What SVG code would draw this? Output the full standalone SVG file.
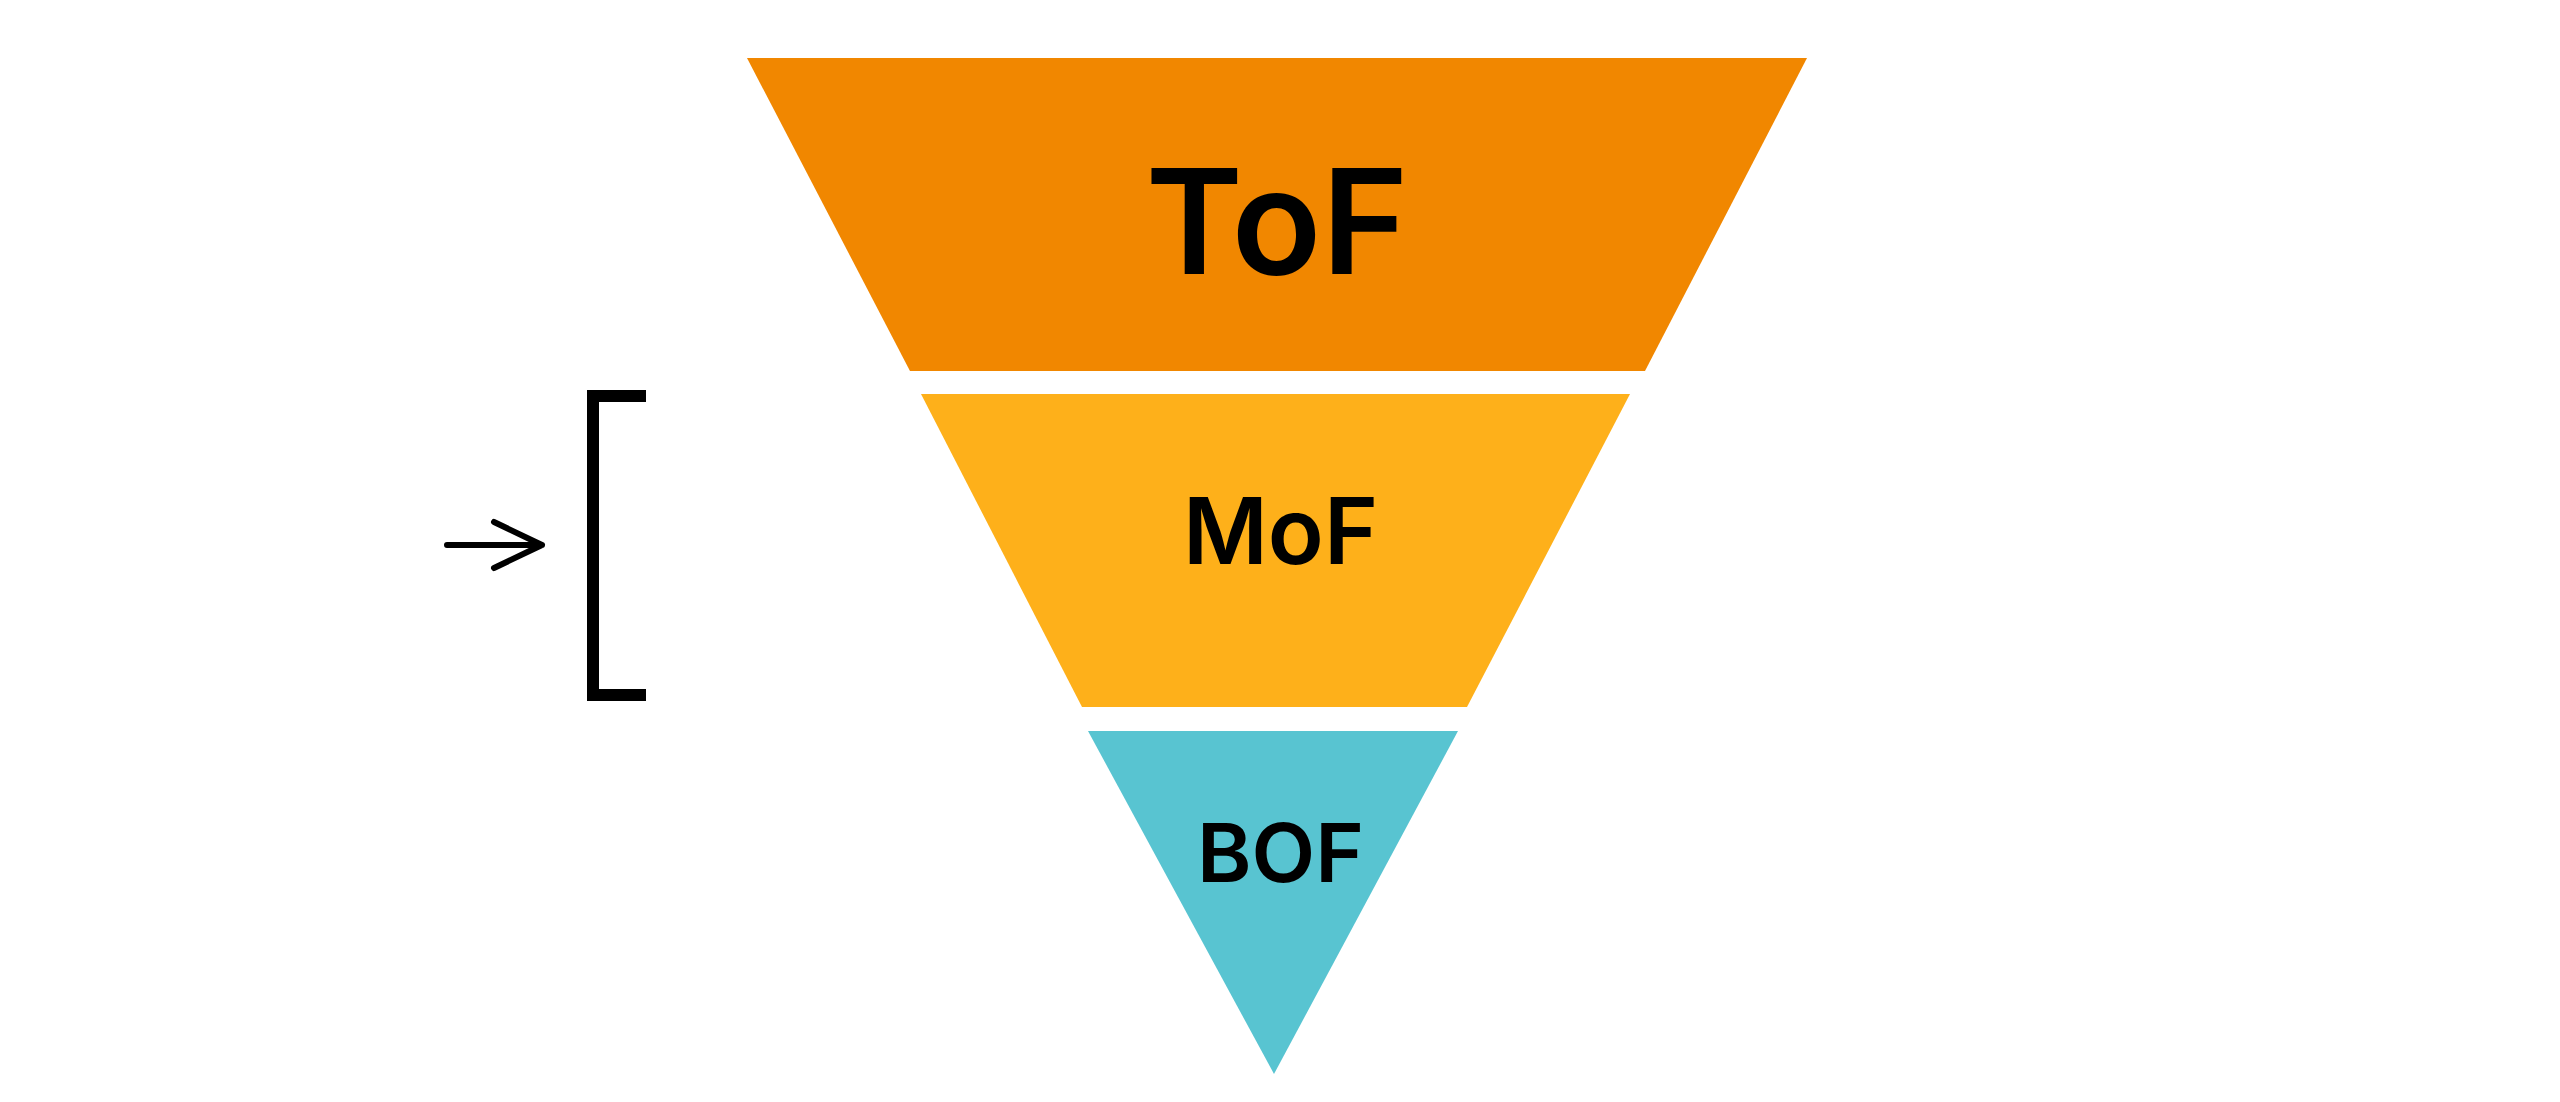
<svg xmlns="http://www.w3.org/2000/svg" width="2560" height="1102" viewBox="0 0 2560 1102">
<style>
.lbl{font-family:Inter,"Liberation Sans",Arial,sans-serif;font-weight:600;fill:#000;text-anchor:middle}
.ink{fill:none;stroke:#000;stroke-width:6;stroke-linecap:round;stroke-linejoin:round}
</style>
<rect width="2560" height="1102" fill="#fff"/>
<g id="tof">
<polygon points="747,58 1807,58 1645,371 910,371" fill="#F18700"/>
<text class="lbl" x="1277" y="274" font-size="146" textLength="263" lengthAdjust="spacingAndGlyphs">ToF</text>
</g>
<g id="mof">
<polygon points="921,394 1630,394 1467,707 1082,707" fill="#FEB01A"/>
<text class="lbl" x="1280.5" y="564" font-size="92" textLength="195" lengthAdjust="spacingAndGlyphs">MoF</text>
</g>
<g id="bof">
<polygon points="1088,731 1458,731 1274,1074" fill="#58C4D1"/>
<text class="lbl" x="1280.5" y="882" font-size="81" textLength="167" lengthAdjust="spacingAndGlyphs">BOF</text>
</g>
<g id="bracket">
<path d="M646,396 H593 V695 H646" fill="none" stroke="#000" stroke-width="12"/>
</g>
<g id="connectors">
<path class="ink" d="M447,545 H542 M494,522 L542,545 L494,568"/>
</g>
</svg>
